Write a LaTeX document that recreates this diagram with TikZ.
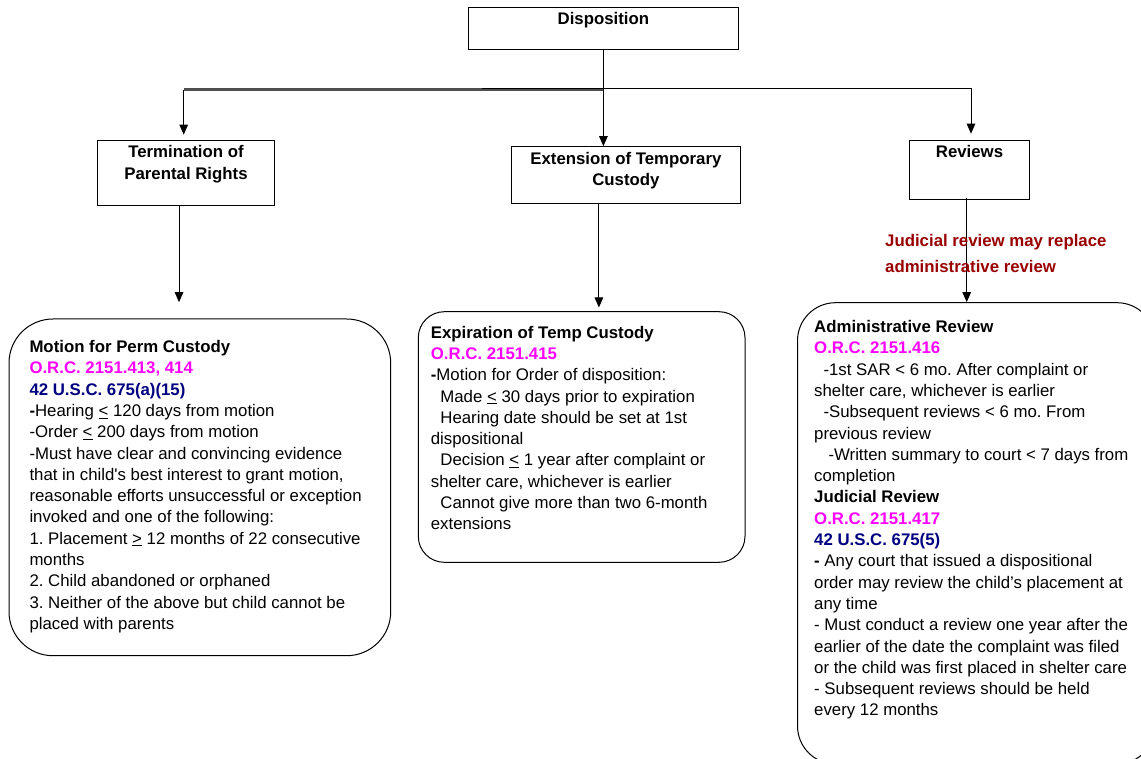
\documentclass[tikz,border=0pt]{standalone}
\usepackage{fontspec}
\setmainfont{Liberation Sans}
\usetikzlibrary{arrows.meta}
\definecolor{orccol}{HTML}{FF00FF}
\definecolor{usccol}{HTML}{000080}
\definecolor{notecol}{HTML}{990000}
\definecolor{branchgray}{HTML}{505050}
\newcommand{\orcref}[1]{{\color{orccol}\textbf{#1}}}
\newcommand{\uscref}[1]{{\color{usccol}\textbf{#1}}}
\newcommand{\ul}[1]{\underline{#1}}
\frenchspacing
\begin{document}
\begin{tikzpicture}[x=1pt,y=-1pt,
  every node/.style={font=\fontsize{16.8}{21.3}\selectfont},
  hdr/.style={draw, line width=1pt, inner sep=0pt},
  rbox/.style={draw, line width=1pt, inner sep=0pt},
  body/.style={anchor=north west, inner sep=0pt, align=left},
  arr/.style={-{Triangle[length=10pt,width=8.5pt]}, line width=1pt},
  lbl/.style={anchor=north, inner sep=0pt, align=center, font=\fontsize{16.8}{21.3}\selectfont\bfseries},
  note/.style={anchor=north west, inner sep=0pt, align=left, text=notecol, font=\fontsize{16.8}{26}\selectfont\bfseries}
]
\useasboundingbox (0,0) rectangle (1141,759);
\clip (0,0) rectangle (1141,759);

% header boxes
\node[hdr, minimum width=270.7pt, minimum height=42.7pt] (disp) at (603.4,28.65) {};
\node[lbl] (dispt) at ([yshift=-5.2pt]disp.north) {Disposition};
\node[hdr, minimum width=177.4pt, minimum height=65pt] (term) at (186,173.2) {};
\node[lbl] (termt) at ([yshift=-5.2pt]term.north) {Termination of\\Parental Rights};
\node[hdr, minimum width=228.3pt, minimum height=56.6pt] (ext) at (625.9,175) {};
\node[lbl] (extt) at ([yshift=-5.6pt]ext.north) {Extension of Temporary\\Custody};
\node[hdr, minimum width=119.6pt, minimum height=59.3pt] (rev) at (969.5,170.35) {};
\node[lbl] (revt) at ([yshift=-5pt]rev.north) {Reviews};

% rounded boxes
\node[rbox, rounded corners=44pt, minimum width=381.7pt, minimum height=336.7pt] (mpc) at (199.85,487.35) {};
\node[rbox, rounded corners=26pt, minimum width=326.7pt, minimum height=250.6pt] (etc) at (581.65,437) {};
\node[rbox, rounded corners=38pt, minimum width=357.5pt, minimum height=461.3pt] (revbox) at (976.25,533.35) {};

% connectors
\coordinate (jL) at (183.7,89.6);
\coordinate (jR0) at (481.7,88.3);
\coordinate (jR) at (971,88.3);
\draw[arr] (disp.south) -- (disp.south |- ext.north);
\draw[line width=2.5pt, branchgray] (disp.south |- jL) -- (jL);
\draw[arr] (jL) -- ([yshift=5.5pt]jL |- term.north);
\draw[line width=1pt] (jR0) -- (jR);
\draw[arr] (jR) -- ([yshift=6.5pt]jR |- rev.north);
\draw[arr] ([xshift=-7pt]term.south) -- ++(0,96);
\draw[arr] ([xshift=-27pt]ext.south) -- ++(0,103.7);
\draw[arr] ([xshift=-2.8pt,yshift=2pt]rev.south) -- ([xshift=-2.8pt]rev.south |- revbox.north);

% note
\node[note] (replace) at (885,234.2) {Judicial review may replace\\administrative review};

% texts
\node[body] (mpct) at (29.3,340.2) {\textbf{Motion for Perm Custody}\\
\orcref{O.R.C. 2151.413, 414}\\
\uscref{42 U.S.C. 675(a)(15)}\\
\textbf{-}Hearing \ul{<} 120 days from motion\\
-Order \ul{<} 200 days from motion\\
-Must have clear and convincing evidence\\
that in child\textquotesingle s best interest to grant motion,\\
reasonable efforts unsuccessful or exception\\
invoked and one of the following:\\
1. Placement \ul{>} 12 months of 22 consecutive\\
months\\
2. Child abandoned or orphaned\\
3. Neither of the above but child cannot be\\
placed with parents};

\node[body] (etct) at (430.7,325.8) {\textbf{Expiration of Temp Custody}\\
\orcref{O.R.C. 2151.415}\\
\textbf{-}Motion for Order of disposition:\\
\hspace*{9.5pt}Made \ul{<} 30 days prior to expiration\\
\hspace*{9.5pt}Hearing date should be set at 1st\\
dispositional\\
\hspace*{9.5pt}Decision \ul{<} 1 year after complaint or\\
shelter care, whichever is earlier\\
\hspace*{9.5pt}Cannot give more than two 6-month\\
extensions};

\node[body] (revt2) at (814,320.2) {\textbf{Administrative Review}\\
\orcref{O.R.C. 2151.416}\\
\hspace*{9.3pt}-1st SAR < 6 mo. After complaint or\\
shelter care, whichever is earlier\\
\hspace*{9.3pt}-Subsequent reviews < 6 mo. From\\
previous review\\
\hspace*{14.3pt}-Written summary to court < 7 days from\\
completion\\
\textbf{Judicial Review}\\
\orcref{O.R.C. 2151.417}\\
\uscref{42 U.S.C. 675(5)}\\
\textbf{-} Any court that issued a dispositional\\
order may review the child’s placement at\\
any time\\
- Must conduct a review one year after the\\
earlier of the date the complaint was filed\\
or the child was first placed in shelter care\\
- Subsequent reviews should be held\\
every 12 months};
\end{tikzpicture}
\end{document}
